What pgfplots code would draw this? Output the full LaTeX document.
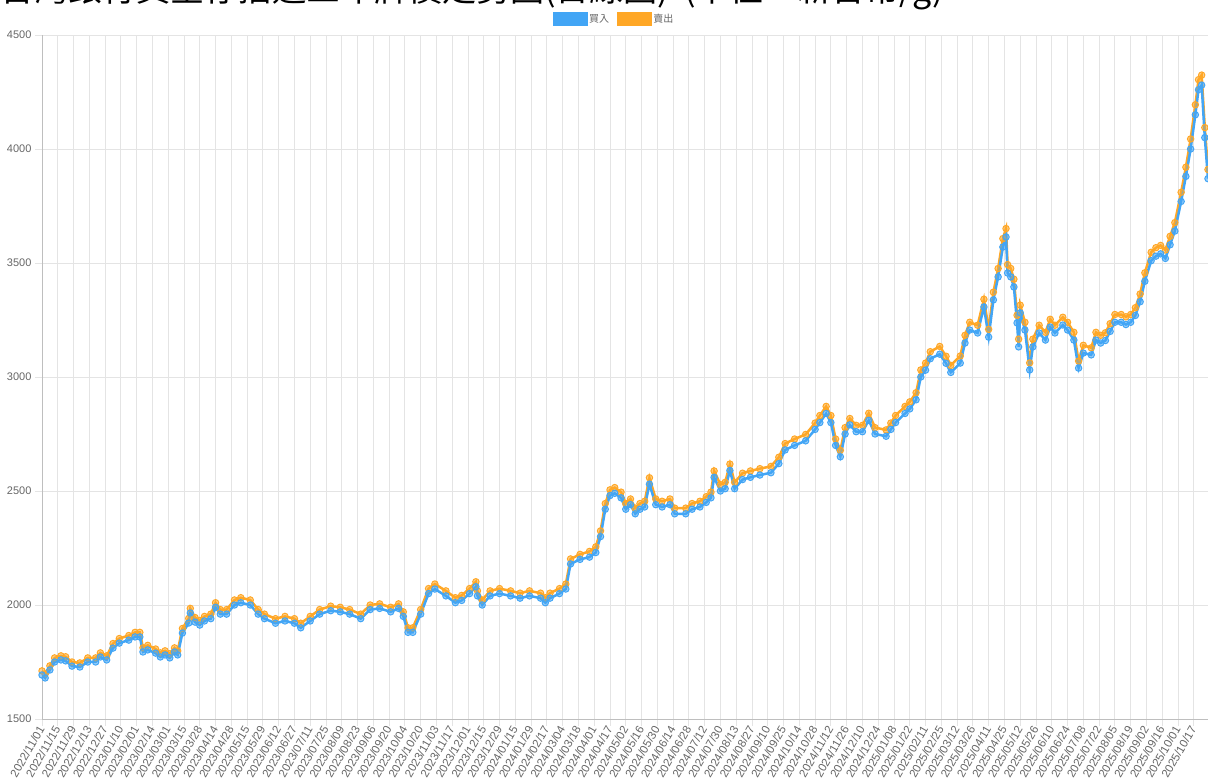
\documentclass[border=0pt]{standalone}
\usepackage{fontspec}
\setmainfont{Liberation Sans}
\newfontfamily\cjk{Noto Sans CJK TC}
\usepackage{pgfplots}
\usepackage{pgfplotstable}
\pgfplotsset{compat=1.18}
\definecolor{buyc}{RGB}{66,165,245}
\definecolor{sellc}{RGB}{255,167,38}
\definecolor{gridc}{RGB}{228,228,228}
\definecolor{tickc}{RGB}{102,102,102}
\definecolor{axc}{RGB}{190,190,190}

\pgfplotstableread{
idx buy sell
0 1693 1711
2 1680 1698
5 1715 1733
8 1750 1768
12 1759 1777
15 1755 1773
19 1732 1750
24 1728 1746
29 1750 1768
34 1750 1768
37 1772 1790
41 1759 1777
45 1811 1831
49 1833 1853
55 1846 1866
59 1860 1880
62 1860 1880
64 1794 1812
67 1803 1823
72 1789 1807
75 1772 1790
78 1781 1799
81 1768 1786
84 1794 1812
86 1781 1799
89 1877 1897
93 1921 1941
94 1965 1985
97 1925 1945
100 1912 1932
103 1930 1950
107 1940 1960
110 1990 2010
113 1960 1980
117 1960 1980
122 2000 2022
126 2010 2032
132 2000 2022
137 1960 1980
141 1940 1960
148 1920 1940
154 1930 1950
160 1920 1940
164 1900 1920
170 1930 1950
176 1960 1980
183 1975 1995
189 1970 1990
195 1960 1980
202 1940 1960
208 1980 2000
214 1985 2005
221 1970 1990
226 1985 2005
229 1950 1970
232 1880 1900
235 1880 1900
240 1960 1980
245 2050 2072
249 2070 2092
256 2040 2062
262 2010 2032
266 2020 2042
271 2050 2072
275 2080 2102
276 2040 2062
279 2000 2022
284 2040 2062
290 2050 2072
297 2040 2062
303 2030 2052
309 2040 2062
316 2030 2052
319 2010 2032
322 2030 2052
328 2050 2072
332 2070 2092
335 2180 2202
341 2200 2222
347 2210 2235
351 2230 2255
354 2300 2325
357 2420 2445
360 2480 2505
363 2490 2515
367 2470 2495
370 2420 2445
373 2440 2465
376 2400 2425
379 2420 2445
382 2430 2455
385 2530 2558
389 2440 2465
393 2430 2455
398 2440 2465
401 2400 2425
408 2400 2425
412 2420 2445
417 2430 2455
421 2450 2475
424 2470 2495
426 2560 2588
430 2500 2528
433 2510 2538
436 2590 2618
439 2510 2538
444 2550 2578
449 2560 2588
455 2570 2598
462 2580 2608
467 2620 2648
471 2680 2708
477 2700 2728
484 2720 2748
490 2770 2798
493 2800 2831
497 2840 2871
500 2800 2831
503 2700 2728
506 2650 2678
509 2750 2778
512 2790 2818
516 2760 2788
520 2760 2788
524 2810 2841
528 2750 2778
535 2740 2768
538 2770 2798
541 2800 2831
547 2840 2871
550 2860 2891
554 2900 2931
557 3000 3031
560 3030 3061
563 3080 3111
569 3100 3134
573 3060 3091
576 3020 3051
582 3061 3092
585 3149 3183
588 3206 3240
593 3193 3227
597 3307 3341
600 3175 3209
603 3338 3372
606 3439 3476
609 3570 3607
611 3614 3651
612 3456 3493
614 3439 3476
616 3395 3429
618 3237 3271
619 3132 3166
620 3281 3315
623 3206 3240
626 3031 3062
628 3132 3166
632 3193 3227
636 3162 3196
639 3219 3253
642 3193 3227
647 3228 3262
650 3206 3240
654 3162 3196
657 3039 3070
660 3105 3139
665 3097 3128
668 3162 3196
671 3149 3183
674 3160 3194
677 3200 3234
680 3240 3274
684 3240 3274
687 3230 3264
690 3240 3274
693 3270 3304
696 3330 3364
699 3420 3457
703 3510 3547
706 3530 3567
709 3540 3577
712 3520 3557
715 3580 3617
718 3640 3677
722 3770 3810
725 3880 3920
728 4000 4044
731 4150 4194
733 4260 4304
735 4280 4324
737 4050 4094
739 3870 3910
}\gold

\begin{document}
\begin{tikzpicture}
\useasboundingbox (0,0) rectangle (1208pt,778pt);
\node[anchor=base west, inner sep=0pt] at (0pt,776pt)
  {\cjk\fontsize{34}{40}\selectfont 台灣銀行黃金存摺近三年牌價走勢圖(日線圖)\ \ (單位：新台幣/g)};
\begin{axis}[
  at={(42pt,59pt)}, anchor=south west,
  scale only axis, width=1166pt, height=684pt,
  xmin=0, xmax=739, ymin=1500, ymax=4500,
  ytick={1500,2000,...,4500},
  xtick={0,10,...,730},
  xticklabels={2022/11/01,2022/11/15,2022/11/29,2022/12/13,2022/12/27,
    2023/01/10,2023/02/01,2023/02/14,2023/03/01,2023/03/15,2023/03/28,2023/04/14,2023/04/28,
    2023/05/15,2023/05/29,2023/06/12,2023/06/27,2023/07/11,2023/07/25,2023/08/09,2023/08/23,
    2023/09/06,2023/09/20,2023/10/04,2023/10/20,2023/11/03,2023/11/17,2023/12/01,2023/12/15,2023/12/29,
    2024/01/15,2024/01/29,2024/02/17,2024/03/04,2024/03/18,2024/04/01,2024/04/17,2024/05/02,
    2024/05/16,2024/05/30,2024/06/14,2024/06/28,2024/07/12,2024/07/30,2024/08/13,2024/08/27,
    2024/09/10,2024/09/25,2024/10/14,2024/10/28,2024/11/12,2024/11/26,2024/12/10,2024/12/24,
    2025/01/08,2025/01/22,2025/02/11,2025/02/25,2025/03/12,2025/03/26,2025/04/11,2025/04/25,
    2025/05/12,2025/05/26,2025/06/10,2025/06/24,2025/07/08,2025/07/22,2025/08/05,2025/08/19,
    2025/09/02,2025/09/16,2025/10/01,2025/10/17},
  xticklabel style={rotate=60, anchor=east, font=\fontsize{11.5}{13}\selectfont, text=tickc, inner sep=1pt},
  yticklabel style={font=\fontsize{11}{13}\selectfont, text=tickc},
  /pgf/number format/assume math mode=true,
  /pgf/number format/set thousands separator={},
  axis lines=left, axis line style={-, draw=axc, line width=0.8pt},
  tick align=outside, major tick length=7pt,
  tick style={draw=gridc, line width=0.8pt},
  grid=major, major grid style={draw=gridc, line width=0.8pt},
  clip=true,
  legend style={at={(0.4906,1.0234)}, anchor=center, draw=none, fill=none,
    legend columns=2, font=\cjk\fontsize{10}{12}\selectfont\color{tickc},
    /tikz/every even column/.append style={column sep=6pt}},
]
\addlegendimage{legend image code/.code={\fill[buyc] (0pt,-6pt) rectangle (34pt,7pt);}}
\addlegendentry{買入}
\addlegendimage{legend image code/.code={\fill[sellc] (0pt,-6pt) rectangle (34pt,7pt);}}
\addlegendentry{賣出}
\addplot[sellc, line width=2.5pt, mark=*, mark size=3.2pt,
  mark options={fill=sellc, fill opacity=0.55, draw=sellc, line width=1pt}, forget plot]
  table[x=idx, y=sell]{\gold};
\addplot[buyc, line width=2.5pt, mark=*, mark size=3.2pt,
  mark options={fill=buyc, fill opacity=0.55, draw=buyc, line width=1pt}, forget plot]
  table[x=idx, y=buy]{\gold};
\end{axis}
\end{tikzpicture}
\end{document}
